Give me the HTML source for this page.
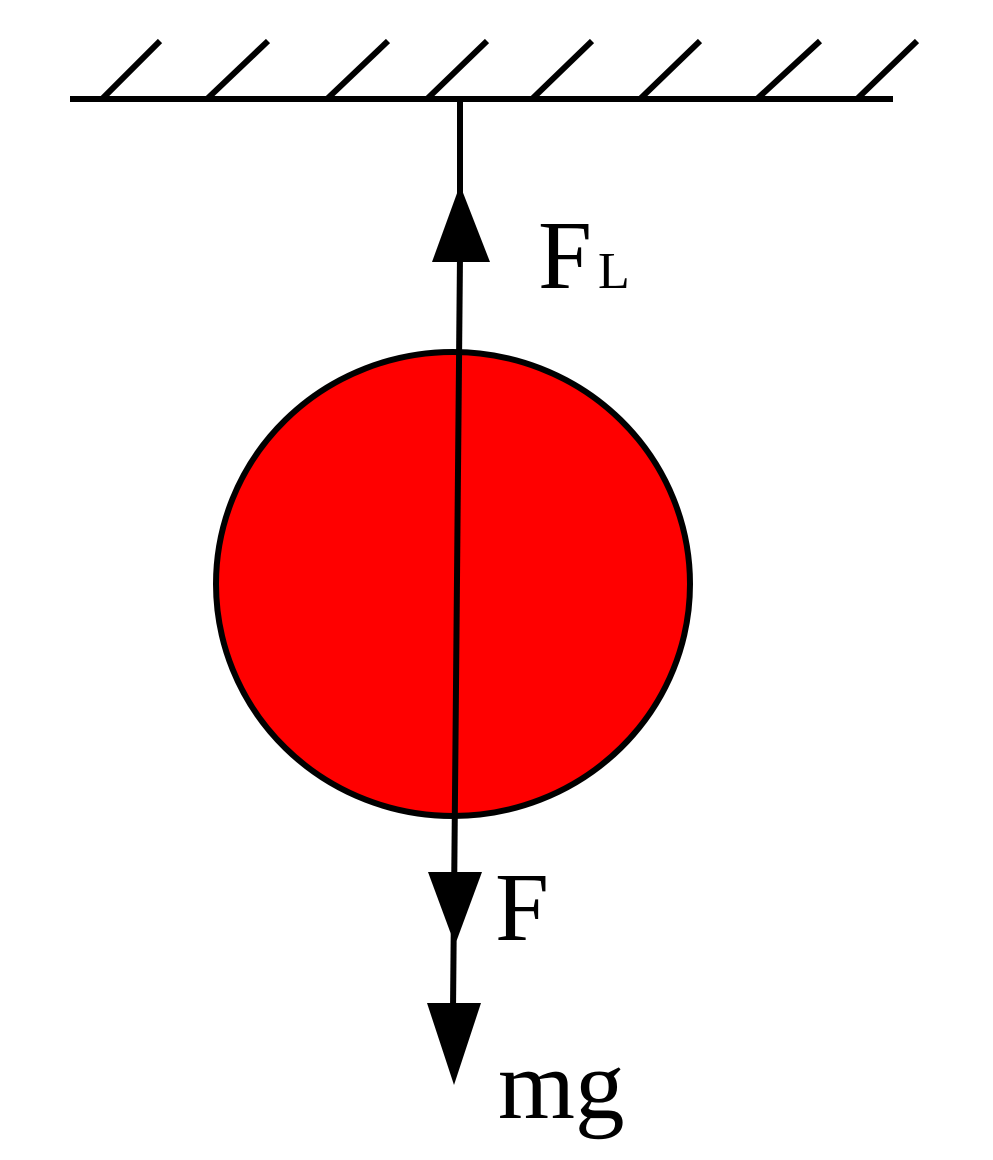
<!DOCTYPE html>
<html><head><style>
html,body{margin:0;padding:0;background:#fff;}
svg{display:block;}
</style></head><body>
<svg width="993" height="1160" viewBox="0 0 993 1160" xmlns="http://www.w3.org/2000/svg">
<g stroke="#000" stroke-width="6" fill="none" stroke-linecap="butt">
<line x1="70" y1="99" x2="893" y2="99"/>
<line x1="102" y1="99" x2="160" y2="41"/>
<line x1="207" y1="99" x2="268" y2="41"/>
<line x1="327" y1="99" x2="388" y2="41"/>
<line x1="427" y1="99" x2="487" y2="41"/>
<line x1="532" y1="99" x2="592" y2="41"/>
<line x1="640" y1="99" x2="700" y2="41"/>
<line x1="757" y1="99" x2="820" y2="41"/>
<line x1="857" y1="99" x2="917" y2="41"/>
</g>
<ellipse cx="453" cy="584" rx="237" ry="232" fill="#ff0000" stroke="#000" stroke-width="6"/>
<g stroke="#000" stroke-width="6" fill="none">
<line x1="460" y1="99" x2="460" y2="200"/>
<line x1="460" y1="255" x2="453" y2="1010"/>
</g>
<polygon points="460,185 432,262 490,262" fill="#000"/>
<polygon points="455,945 428,872 482,872" fill="#000"/>
<polygon points="454,1085 427,1003 481,1003" fill="#000"/>
<g font-family="'Liberation Serif', serif" fill="#000">
<text x="538" y="288" font-size="97">F</text>
<text x="598" y="288" font-size="52">L</text>
<text x="495" y="940" font-size="97">F</text>
<text x="498" y="1118" font-size="99">mg</text>
</g>
</svg>
</body></html>
